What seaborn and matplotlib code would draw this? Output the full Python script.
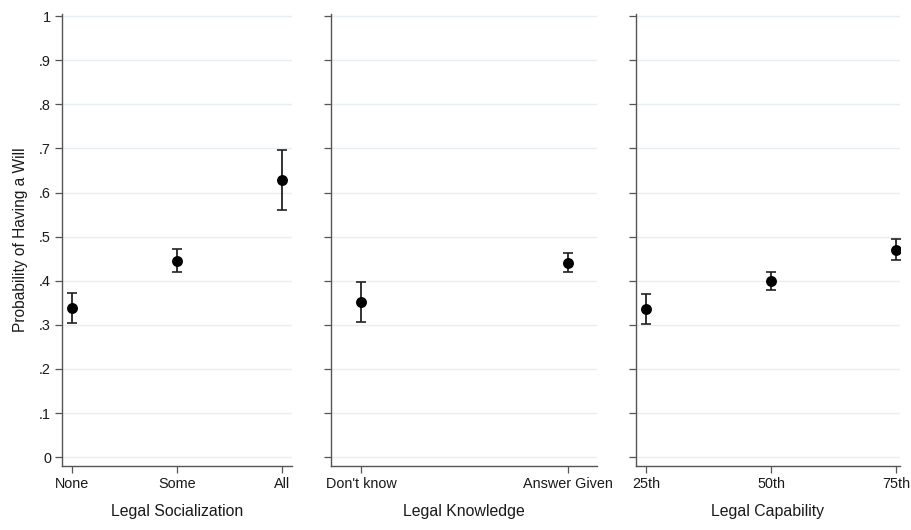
import matplotlib
matplotlib.use("Agg")
import matplotlib.pyplot as plt
import seaborn as sns
import pandas as pd

# ---- data ----
soc_cats = ["None", "Some", "All"]
soc_est = [0.338, 0.445, 0.628]
soc_lo = [0.305, 0.420, 0.560]
soc_hi = [0.372, 0.471, 0.697]

know_cats = ["Don't know", "Answer Given"]
know_est = [0.352, 0.441]
know_lo = [0.307, 0.419]
know_hi = [0.397, 0.462]

cap_cats = ["25th", "50th", "75th"]
cap_est = [0.335, 0.400, 0.469]
cap_lo = [0.301, 0.379, 0.447]
cap_hi = [0.369, 0.420, 0.494]

titles = ["Legal Socialization", "Legal Knowledge", "Legal Capability"]
yticks = [0, 0.1, 0.2, 0.3, 0.4, 0.5, 0.6, 0.7, 0.8, 0.9, 1.0]
ytick_labels = ["0", ".1", ".2", ".3", ".4", ".5", ".6", ".7", ".8", ".9", "1"]

sns.set_theme(style="white")
plt.rcParams["font.family"] = ["Liberation Sans", "DejaVu Sans"]

fig = plt.figure(figsize=(9.11, 5.30), dpi=100)
W, H = 911, 530
ax_px = [(62, 292), (331, 597), (636, 900)]
xlims = [(-0.095, 2.095), (-0.145, 1.14), (-0.08, 2.03)]
bottom_px, top_px = 466, 14

panels = [(soc_cats, soc_est, soc_lo, soc_hi),
          (know_cats, know_est, know_lo, know_hi),
          (cap_cats, cap_est, cap_lo, cap_hi)]

spine_col = "#555555"
text_col = "#1a1a1a"
for i, ((cats, est, lo, hi), (l, r)) in enumerate(zip(panels, ax_px)):
    ax = fig.add_axes([l / W, 1 - bottom_px / H, (r - l) / W, (bottom_px - top_px) / H])
    df = pd.DataFrame({"cat": cats, "est": est, "lo": lo, "hi": hi})
    df["x"] = range(len(cats))
    for y in yticks:
        ax.axhline(y, color="#e6eff1", lw=1.0, zorder=0)
    ax.errorbar(df["x"], df["est"],
                yerr=[df["est"] - df["lo"], df["hi"] - df["est"]],
                fmt="none", ecolor="#222222", elinewidth=1.3, capsize=3.5,
                capthick=1.2, zorder=2)
    sns.scatterplot(data=df, x="x", y="est", ax=ax, color="black", s=62,
                    edgecolor="black", linewidth=0, zorder=3, legend=False)
    ax.set_xlim(*xlims[i])
    ax.set_ylim(-0.02, 1.005)
    ax.set_xticks(df["x"])
    ax.set_xticklabels(cats, fontsize=10.4, color=text_col)
    ax.set_yticks(yticks)
    if i == 0:
        ax.set_yticklabels(ytick_labels, fontsize=10.4, color=text_col)
        ax.set_ylabel("Probability of Having a Will", fontsize=11.2, color=text_col, labelpad=8)
    else:
        ax.set_yticklabels([])
        ax.set_ylabel("")
    ax.set_xlabel(titles[i], fontsize=11.4, color=text_col, labelpad=9)
    for s in ["top", "right"]:
        ax.spines[s].set_visible(False)
    for s in ["left", "bottom"]:
        ax.spines[s].set_color(spine_col)
        ax.spines[s].set_linewidth(1.0)
    ax.tick_params(axis="both", which="both", direction="out", length=5,
                   width=0.9, color=spine_col, left=True, bottom=True, pad=3)
    ax.grid(False)

fig.savefig("out.png", dpi=100, facecolor="white")
